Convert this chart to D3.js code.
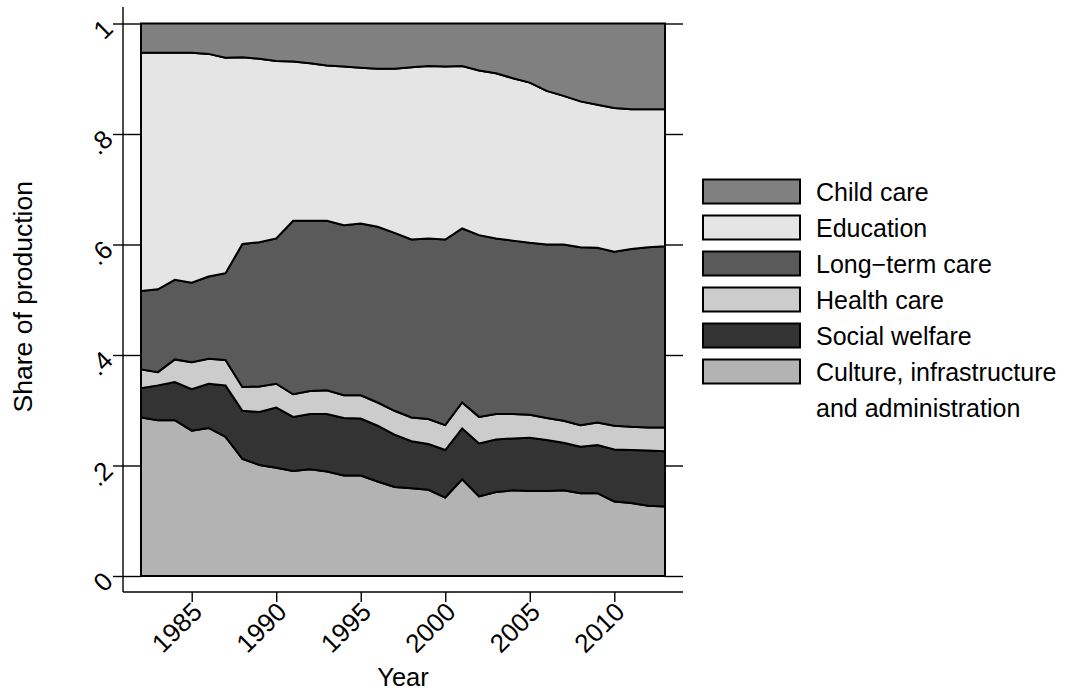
<!DOCTYPE html>
<html>
<head>
  <meta charset="utf-8">
  <title>Share of production</title>
  <script src="https://d3js.org/d3.v7.min.js"></script>
  <style>
    body { margin: 0; background: #fff; }
    text { font-family: "Liberation Sans", Arial, sans-serif; fill: #000; }
  </style>
</head>
<body>

  <svg width="1070" height="692"></svg>

  <script>

    // Data: share of production by sector, 1982-2013
    const years = [1982, 1983, 1984, 1985, 1986, 1987, 1988, 1989, 1990, 1991,
                   1992, 1993, 1994, 1995, 1996, 1997, 1998, 1999, 2000, 2001,
                   2002, 2003, 2004, 2005, 2006, 2007, 2008, 2009, 2010, 2011,
                   2012, 2013];

    const culture = [.287, .282, .282, .263, .268, .252, .212, .201, .196, .190,
                     .193, .189, .182, .182, .171, .161, .159, .156, .142, .175,
                     .144, .152, .155, .154, .154, .155, .150, .150, .135, .132,
                     .127, .126];
    const welfare = [.053, .063, .069, .075, .080, .093, .087, .096, .109, .098,
                     .100, .104, .104, .103, .101, .095, .085, .083, .086, .092,
                     .096, .095, .094, .096, .092, .086, .084, .087, .094, .096,
                     .100, .100];
    const health = [.034, .024, .041, .049, .045, .046, .043, .046, .043, .041,
                    .042, .043, .041, .042, .042, .043, .043, .045, .045, .047,
                    .048, .046, .044, .042, .040, .040, .039, .041, .043, .042,
                    .042, .043];
    const longTerm = [.142, .150, .144, .144, .149, .157, .259, .261, .263, .314,
                      .308, .307, .308, .311, .318, .322, .322, .327, .336, .315,
                      .329, .318, .314, .311, .314, .319, .322, .316, .315, .322,
                      .326, .328];
    const education = [.431, .428, .411, .416, .403, .390, .338, .332, .321, .288,
                       .285, .281, .287, .282, .286, .297, .312, .312, .313, .294,
                       .298, .299, .294, .290, .278, .269, .264, .259, .260, .253,
                       .250, .248];
    const childCare = [.053, .053, .053, .053, .055, .062, .061, .064, .068, .069,
                       .072, .076, .078, .080, .082, .082, .079, .077, .078, .077,
                       .085, .090, .099, .107, .122, .131, .141, .147, .153, .155,
                       .155, .155];

    // Series from bottom of the stack to the top
    const seriesNames = ["Culture, infrastructure and administration", "Social welfare",
                         "Health care", "Long\u2212term care", "Education", "Child care"];
    const seriesValues = [culture, welfare, health, longTerm, education, childCare];
    const seriesColors = ["#b3b3b3", "#333333", "#cccccc", "#5a5a5a", "#e5e5e5", "#808080"];

    const xTicks = [1985, 1990, 1995, 2000, 2005, 2010];
    const yTicks = [0, .2, .4, .6, .8, 1];
    const yTickLabels = ["0", ".2", ".4", ".6", ".8", "1"];

    // Layout
    const plot = { left: 141, right: 665, top: 23.5, bottom: 576 };
    const axisX = 123, axisY = 592;

    const svg = d3.select("svg");

    const x = d3.scaleLinear()
      .domain([d3.min(years), d3.max(years)])
      .range([plot.left, plot.right]);

    const y = d3.scaleLinear()
      .domain([0, 1])
      .range([plot.bottom, plot.top]);

    // Build table and stack it
    const table = years.map((yr, i) => {
      const row = { year: yr };
      seriesNames.forEach((name, k) => { row[name] = seriesValues[k][i]; });
      return row;
    });

    const stacked = d3.stack().keys(seriesNames)(table);

    const area = d3.area()
      .x(d => x(d.data.year))
      .y0(d => y(d[0]))
      .y1(d => y(d[1]));

    svg.append("g")
      .selectAll("path")
      .data(stacked)
      .join("path")
        .attr("d", area)
        .attr("fill", (d, i) => seriesColors[i])
        .attr("stroke", "#000")
        .attr("stroke-width", 2)
        .attr("stroke-linejoin", "miter");

    // Axis lines
    svg.append("line")
      .attr("x1", axisX).attr("x2", axisX)
      .attr("y1", 7).attr("y2", axisY)
      .attr("stroke", "#000").attr("stroke-width", 1.4);

    svg.append("line")
      .attr("x1", axisX).attr("x2", 683)
      .attr("y1", axisY).attr("y2", axisY)
      .attr("stroke", "#000").attr("stroke-width", 1.4);

    // Left y axis: ticks cross the axis line
    const yAxis = svg.append("g")
      .attr("transform", `translate(${plot.left},0)`)
      .call(d3.axisLeft(y)
        .tickValues(yTicks)
        .tickFormat((d, i) => yTickLabels[i])
        .tickSizeInner(plot.left - 113)
        .tickSizeOuter(0));
    yAxis.select(".domain").remove();
    yAxis.selectAll(".tick line").attr("stroke-width", 1.4);
    yAxis.selectAll(".tick text")
      .attr("x", null)
      .attr("dy", ".35em")
      .attr("text-anchor", "end")
      .attr("transform", `translate(${108 - plot.left},0) rotate(-45)`)
      .style("font-size", "26px");

    // Right y axis: ticks only
    const yAxisR = svg.append("g")
      .attr("transform", `translate(${plot.right},0)`)
      .call(d3.axisRight(y)
        .tickValues(yTicks)
        .tickFormat("")
        .tickSizeInner(683 - plot.right)
        .tickSizeOuter(0));
    yAxisR.select(".domain").remove();
    yAxisR.selectAll(".tick line").attr("stroke-width", 1.4);

    // Bottom x axis
    const xAxis = svg.append("g")
      .attr("transform", `translate(0,${axisY})`)
      .call(d3.axisBottom(x)
        .tickValues(xTicks)
        .tickFormat(d3.format("d"))
        .tickSizeInner(10)
        .tickSizeOuter(0));
    xAxis.select(".domain").remove();
    xAxis.selectAll(".tick line").attr("stroke-width", 1.4);
    xAxis.selectAll(".tick text")
      .attr("y", null)
      .attr("dy", ".35em")
      .attr("text-anchor", "end")
      .attr("transform", "translate(5,15) rotate(-45)")
      .style("font-size", "26px");

    // Axis titles
    svg.append("text")
      .attr("x", (plot.left + plot.right) / 2)
      .attr("y", 686)
      .attr("text-anchor", "middle")
      .style("font-size", "25.5px")
      .text("Year");

    svg.append("text")
      .attr("transform", `translate(32,${(plot.top + plot.bottom) / 2 - 3}) rotate(-90)`)
      .attr("text-anchor", "middle")
      .style("font-size", "26.5px")
      .text("Share of production");

    // Legend (top of stack first)
    const legendItems = seriesNames.map((name, i) => ({ name, color: seriesColors[i] })).reverse();
    const legend = svg.append("g").attr("transform", "translate(703,179.5)");

    const rows = legend.selectAll("g")
      .data(legendItems)
      .join("g")
        .attr("transform", (d, i) => `translate(0,${i * 36})`);

    rows.append("rect")
      .attr("width", 97)
      .attr("height", 24)
      .attr("fill", d => d.color)
      .attr("stroke", "#000")
      .attr("stroke-width", 2);

    rows.append("text")
      .attr("x", 113)
      .attr("y", 21)
      .style("font-size", "25px")
      .each(function(d) {
        const t = d3.select(this);
        if (d.name.startsWith("Culture")) {
          t.append("tspan").attr("x", 113).text("Culture, infrastructure");
          t.append("tspan").attr("x", 113).attr("dy", 36).text("and administration");
        } else {
          t.text(d.name);
        }
      });

  </script>

</body>
</html>
